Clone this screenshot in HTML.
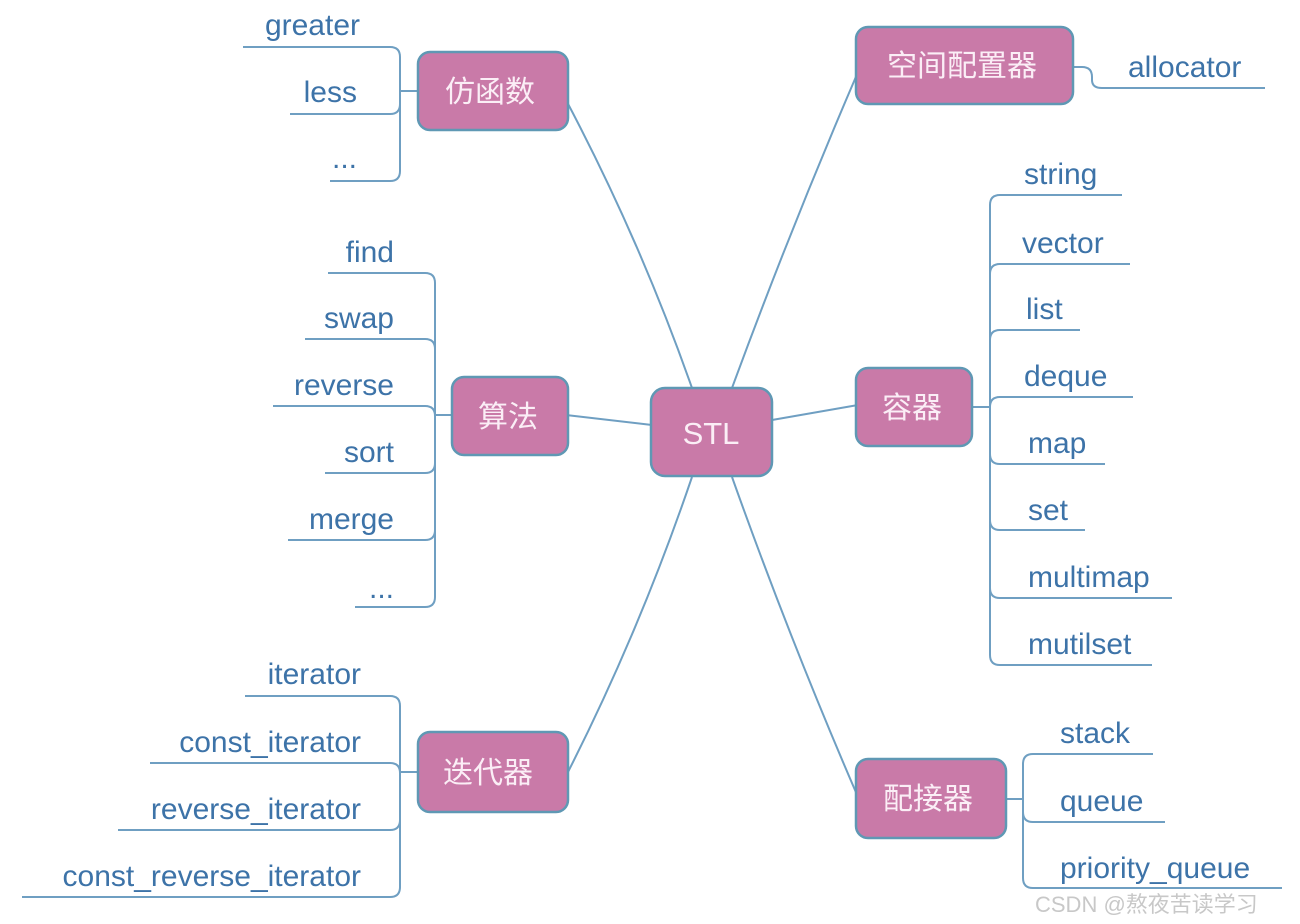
<!DOCTYPE html>
<html><head><meta charset="utf-8"><style>
html,body{margin:0;padding:0;background:#fff;}
svg{display:block}
.t{font-family:"Liberation Sans","Noto Sans CJK SC",sans-serif;font-size:30px;fill:#3d73a8;}
.b{fill:#c97aa8;stroke:#5f98b4;stroke-width:2.5;}
.bt{font-family:"Liberation Sans","Noto Sans CJK SC",sans-serif;font-size:30px;fill:#fbeef6;text-anchor:middle;}
.l{fill:none;stroke:#6f9fc2;stroke-width:2;}
</style></head><body>
<svg width="1300" height="924" viewBox="0 0 1300 924" xmlns="http://www.w3.org/2000/svg">
<path class="l" d="M692 388 Q640 240 566 100"/>
<path class="l" d="M732 388 Q790 230 858 72"/>
<path class="l" d="M566 415 L652 425"/>
<path class="l" d="M772 420 L858 405"/>
<path class="l" d="M692 477 Q640 630 568 772"/>
<path class="l" d="M732 477 Q790 640 858 797"/>

<path class="l" d="M243 47 H390 Q400 47 400 57 V171 Q400 181 390 181 H330"/>
<path class="l" d="M290 114 H390 Q400 114 400 104"/>
<path class="l" d="M400 91 H418"/>
<text class="t" x="360" y="35" text-anchor="end">greater</text>
<text class="t" x="357" y="102" text-anchor="end">less</text>
<text class="t" x="357" y="168" text-anchor="end">...</text>

<path class="l" d="M328 273 H425 Q435 273 435 283 V597 Q435 607 425 607 H355"/>
<path class="l" d="M305 339 H425 Q435 339 435 349"/>
<path class="l" d="M273 406 H425 Q435 406 435 416"/>
<path class="l" d="M325 473 H425 Q435 473 435 463"/>
<path class="l" d="M288 540 H425 Q435 540 435 530"/>
<path class="l" d="M435 415 H452"/>
<text class="t" x="394" y="262" text-anchor="end">find</text>
<text class="t" x="394" y="328" text-anchor="end">swap</text>
<text class="t" x="394" y="395" text-anchor="end">reverse</text>
<text class="t" x="394" y="462" text-anchor="end">sort</text>
<text class="t" x="394" y="529" text-anchor="end">merge</text>
<text class="t" x="394" y="598" text-anchor="end">...</text>

<path class="l" d="M245 696 H390 Q400 696 400 706 V887 Q400 897 390 897 H22"/>
<path class="l" d="M150 763 H390 Q400 763 400 773"/>
<path class="l" d="M118 830 H390 Q400 830 400 820"/>
<path class="l" d="M400 772 H418"/>
<text class="t" x="361" y="684" text-anchor="end">iterator</text>
<text class="t" x="361" y="752" text-anchor="end">const_iterator</text>
<text class="t" x="361" y="819" text-anchor="end">reverse_iterator</text>
<text class="t" x="361" y="886" text-anchor="end">const_reverse_iterator</text>

<path class="l" d="M1073 67 H1082 Q1092 67 1092 77 V80 Q1092 88 1102 88 H1265"/>
<text class="t" x="1128" y="77">allocator</text>

<path class="l" d="M1122 195 H1000 Q990 195 990 205 V655 Q990 665 1000 665 H1152"/>
<path class="l" d="M1130 264 H1000 Q990 264 990 274"/>
<path class="l" d="M1080 330 H1000 Q990 330 990 340"/>
<path class="l" d="M1133 397 H1000 Q990 397 990 407"/>
<path class="l" d="M1105 464 H1000 Q990 464 990 454"/>
<path class="l" d="M1085 530 H1000 Q990 530 990 520"/>
<path class="l" d="M1172 598 H1000 Q990 598 990 588"/>
<path class="l" d="M972 407 H990"/>
<text class="t" x="1024" y="184">string</text>
<text class="t" x="1022" y="253">vector</text>
<text class="t" x="1026" y="319">list</text>
<text class="t" x="1024" y="386">deque</text>
<text class="t" x="1028" y="453">map</text>
<text class="t" x="1028" y="520">set</text>
<text class="t" x="1028" y="587">multimap</text>
<text class="t" x="1028" y="654">mutilset</text>

<path class="l" d="M1153 754 H1033 Q1023 754 1023 764 V878 Q1023 888 1033 888 H1282"/>
<path class="l" d="M1165 822 H1033 Q1023 822 1023 812"/>
<path class="l" d="M1006 799 H1023"/>
<text class="t" x="1060" y="743">stack</text>
<text class="t" x="1060" y="811">queue</text>
<text class="t" x="1060" y="878">priority_queue</text>

<rect class="b" x="418" y="52" width="150" height="78" rx="12"/>
<text class="bt" x="490" y="102">仿函数</text>
<rect class="b" x="856" y="27" width="217" height="77" rx="12"/>
<text class="bt" x="962" y="76">空间配置器</text>
<rect class="b" x="452" y="377" width="116" height="78" rx="12"/>
<text class="bt" x="508" y="427">算法</text>
<rect class="b" x="651" y="388" width="121" height="88" rx="14"/>
<text class="bt" x="711" y="444" style="font-size:31px">STL</text>
<rect class="b" x="856" y="368" width="116" height="78" rx="12"/>
<text class="bt" x="912" y="418">容器</text>
<rect class="b" x="418" y="732" width="150" height="80" rx="12"/>
<text class="bt" x="488" y="783">迭代器</text>
<rect class="b" x="856" y="759" width="150" height="79" rx="12"/>
<text class="bt" x="928" y="809">配接器</text>

<text x="1035" y="912" style="font-family:'Liberation Sans','Noto Sans CJK SC',sans-serif;font-size:22px;fill:#c8c8c8">CSDN @熬夜苦读学习</text>
</svg>
</body></html>
